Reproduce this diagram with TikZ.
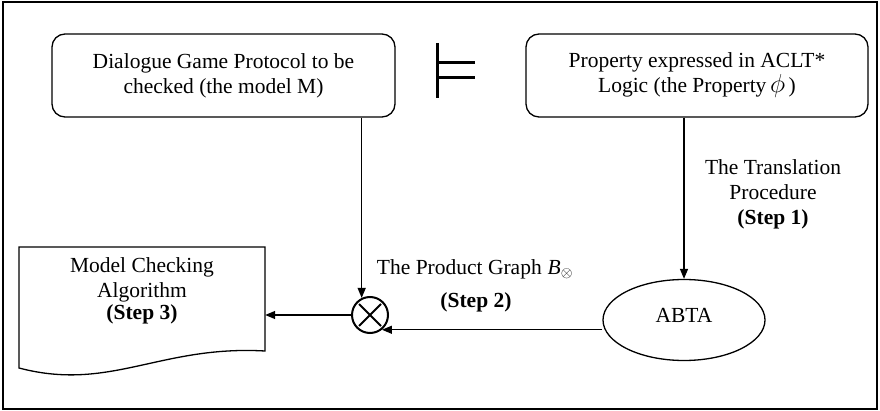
\RequirePackage{fix-cm}
\documentclass[tikz,border=0pt]{standalone}
\usepackage{fontspec}
\usepackage{graphicx}
\setmainfont{Liberation Serif}
\usetikzlibrary{arrows.meta,shapes.geometric}
\begin{document}
\begin{tikzpicture}[x=1pt,y=-1pt,
  every node/.style={font=\fontsize{21.5}{25}\selectfont, inner sep=0pt},
  rbox/.style={draw, rounded corners=13pt, line width=1.3pt, minimum width=343pt, minimum height=83pt, align=center},
  arr/.style={line width=1.4pt, -{Triangle[length=10pt,width=8pt]}},
  lbl/.style={align=center},
  shapeline/.style={line width=1.3pt}]
\useasboundingbox (0,0) rectangle (880,411);
\draw[line width=1.5pt] (3,2) rectangle (877,409);
% top boxes
\node[rbox] (model) at (223.5,75.5) {Dialogue Game Protocol to be\\checked (the model M)};
\node[rbox, minimum width=342pt] (prop) at (697,75.5) {Property expressed in ACLT*\\Logic (the Property\,{\fontsize{26}{25}\selectfont$\phi$}\,)};
% turnstile symbol
\draw[line width=3pt] (437,43) -- (437,98) (437,63) -- (475,63) (437,78) -- (475,78);
% ABTA
\node[draw, ellipse, shapeline, minimum width=162pt, minimum height=81pt] (abta) at (684,320) {\raisebox{9pt}{ABTA}};
% product operator
\node[circle, draw, line width=2pt, minimum size=36pt] (ot) at (370,315) {};
\draw[line width=2pt] ([shift={(-11,-11)}]ot.center) -- ([shift={(11,11)}]ot.center)
                      ([shift={(-11,11)}]ot.center) -- ([shift={(11,-11)}]ot.center);
% document shape
\node[lbl, minimum width=246pt] (doc) at (142,291) {Model Checking\\Algorithm\\[-3pt]\textbf{(Step 3)}};
\draw[shapeline] (19,247) -- (265,247) -- (265,351) .. controls (160,345) and (110,392) .. (19,368) -- cycle;
% labels
\node[lbl] (l1) at (773,194) {The Translation\\Procedure\\\textbf{(Step 1)}};
\node (l2a) at (475,269) {The Product Graph\;\textit{B}$_{\otimes}$};
\node (l2b) at (476,302) {\textbf{(Step 2)}};
% connectors
\draw[arr] (model.south -| ot.116.6) -- (ot.116.6);
\draw[arr] (prop.south -| abta.north) -- (abta.north);
\draw[arr] (ot.-51 -| abta.west) -- (ot.-51);
\draw[arr] (ot.west) -- (doc.east |- ot.west);
\end{tikzpicture}
\end{document}
